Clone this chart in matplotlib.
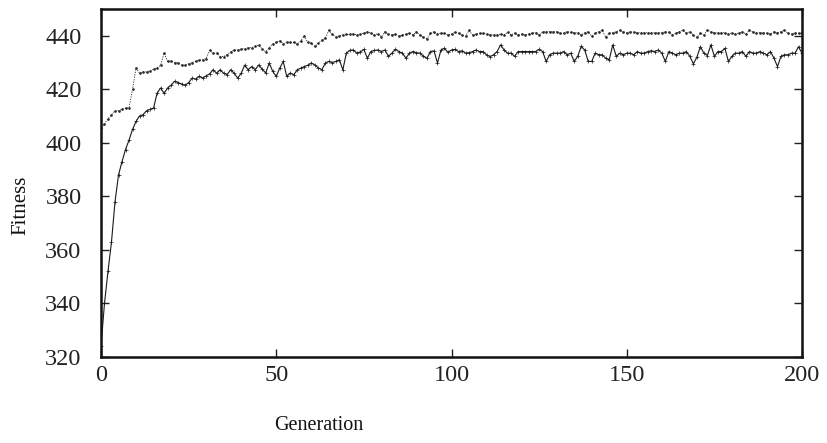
import matplotlib
matplotlib.use("Agg")
import matplotlib.pyplot as plt
import numpy as np

# best fitness per generation (upper, dotted curve)
best_fitness = [
    405.5, 407, 409, 410.5, 412, 412, 412.5, 413, 413, 420,
    428, 426, 426.5, 426.5, 427, 427.5, 428, 429, 433.5, 430.5,
    430.5, 430, 430, 429, 429, 429.5, 430, 430.5, 431, 431,
    431.5, 434.5, 433.5, 433.5, 432.2, 432.2, 433, 434, 434.7, 434.7,
    435, 435.2, 435.5, 435.6, 436, 436.5, 435, 434, 435.5, 437,
    437.5, 438.2, 437, 437.5, 437.5, 437.5, 437, 438, 440, 437.5,
    437.2, 436, 437.2, 438.4, 439, 442, 440.5, 439.5, 440, 440.3,
    440.5, 440.5, 440.7, 440.3, 440.5, 441, 441.5, 441, 440.3, 440.8,
    439.6, 441.5, 440.6, 440.3, 440.6, 439.8, 440.3, 440.6, 441, 440.3,
    441.5, 440.3, 439.5, 438.9, 440.9, 441.5, 440.6, 441, 440.9, 440.3,
    440.6, 441.3, 441, 440.3, 439.8, 442, 440.3, 440.6, 440.9, 440.9,
    440.6, 440.3, 440.3, 440.3, 440.6, 440.3, 441.3, 440.3, 441, 440.3,
    440.6, 440.3, 440.6, 441, 441.2, 440.3, 441.5, 441.5, 441.5, 441.5,
    441.5, 440.9, 441, 441.5, 441.3, 441.1, 441.1, 440.3, 441.1, 441.5,
    439.9, 440.9, 441.5, 442, 439.4, 440.9, 441.1, 441.5, 442, 441.5,
    441.1, 441.5, 441.3, 441.1, 441.1, 441.1, 441.1, 441.1, 441.1, 441.1,
    441.1, 441.5, 441.3, 440.3, 440.9, 441.5, 442.1, 441.1, 441.5, 440.3,
    439.4, 440.9, 440.3, 442.1, 441.5, 441.1, 441.1, 441.1, 441.1, 440.6,
    441.1, 440.6, 441.1, 441.5, 440.6, 442.1, 441.5, 441.1, 441.1, 441.1,
    440.9, 440.6, 441.5, 441.1, 441.5, 442.1, 440.9, 440.6, 441.1, 440.9,
    441,
]

# average fitness per generation (lower, solid curve)
avg_fitness = [
    324, 340, 352, 363, 378, 388, 393, 397.5, 401, 405,
    408, 410, 410.5, 412, 412.5, 413, 418.5, 420.5, 418.5, 420.5,
    421.5, 423, 422.5, 422, 421.5, 422.5, 424.2, 423.8, 424.8, 424.2,
    425, 425.8, 427.3, 426, 427.3, 426, 425.5, 427.3, 426, 424.2,
    426, 429, 427.3, 428.5, 427.3, 429.1, 427.5, 426.1, 429.8, 426.7,
    424.8, 427.9, 430.4, 424.8, 426.1, 425.4, 427.3, 427.9, 428.5, 429,
    429.8, 429.1, 428, 427.3, 429.8, 430.4, 430, 430.4, 431, 427.3,
    433.5, 434.5, 434.7, 433.5, 434, 434.9, 431.6, 434.1, 434.5, 434.7,
    434.1, 434.7, 432.3, 433.5, 434.9, 434.1, 433.5, 431.6, 433.5, 434.1,
    433.7, 433.5, 432.3, 431.6, 434.1, 434.4, 429.8, 434.7, 435.3, 433.8,
    434.7, 434.9, 434.1, 434.4, 433.5, 433.7, 434.1, 434.7, 434.1, 434.1,
    432.9, 432.2, 432.9, 434.1, 436.6, 434.7, 433.5, 433.5, 432.3, 434.1,
    434.1, 434.1, 434.1, 434.1, 434.1, 434.9, 434.1, 430.4, 432.9, 433.5,
    433.5, 433.5, 434.1, 432.9, 433.5, 430.4, 432.3, 436, 434.7, 430.4,
    430.4, 433.5, 432.9, 432.9, 431.6, 431, 436.6, 432.3, 433.5, 432.9,
    433.5, 433.5, 432.9, 434.1, 433.5, 433.5, 434.1, 434.4, 434.1, 434.7,
    433.5, 430.4, 434.1, 433.5, 432.9, 433.5, 433.5, 434.1, 432.3, 429.5,
    432, 435.9, 433.5, 432.6, 436.6, 432.3, 434.1, 434.1, 435.3, 430.4,
    432.3, 433.5, 433.5, 434.1, 432.3, 434.1, 433.5, 433.5, 434.1, 433.5,
    432.9, 434.1, 431.6, 428.5, 432.3, 432.9, 432.9, 433.5, 433.5, 435.9,
    433.5,
]

x_ticks = [0, 50, 100, 150, 200]
y_ticks = [320, 340, 360, 380, 400, 420, 440]


def main() -> None:
    plt.rcParams['font.family'] = ['Liberation Serif', 'DejaVu Serif']

    generations = np.arange(len(best_fitness))

    fig = plt.figure(figsize=(8.27, 4.43), dpi=100)
    ax = fig.add_axes([0.1221, 0.1941, 0.8477, 0.7856])

    ax.plot(generations, best_fitness, color='#2a2a2a', lw=0.6,
            ls=(0, (1.5, 1.5)), marker='.', ms=1.8)
    ax.plot(generations, avg_fitness, color='#1a1a1a', lw=0.8,
            marker='+', ms=2.5, mew=0.5)

    ax.set_xlim(0, 200)
    ax.set_ylim(320, 450)
    ax.set_xticks(x_ticks)
    ax.set_yticks(y_ticks)
    ax.tick_params(direction='in', length=6, width=1, top=True, right=True,
                   labelsize=17.5, colors='#222222')
    ax.tick_params(axis='y', pad=14)
    ax.tick_params(axis='x', pad=6)
    for s in ax.spines.values():
        s.set_linewidth(1.8)
        s.set_color('#111111')

    fig.text(21 / 827, 1 - 205 / 443, 'Fitness', rotation=90,
             ha='center', va='center', fontsize=15, color='#111111')
    fig.text(319 / 827, 1 - 425 / 443, 'Generation',
             ha='center', va='center', fontsize=14.5, color='#111111')

    fig.savefig('out.png', dpi=100)


if '__main__' == __name__:
    main()
